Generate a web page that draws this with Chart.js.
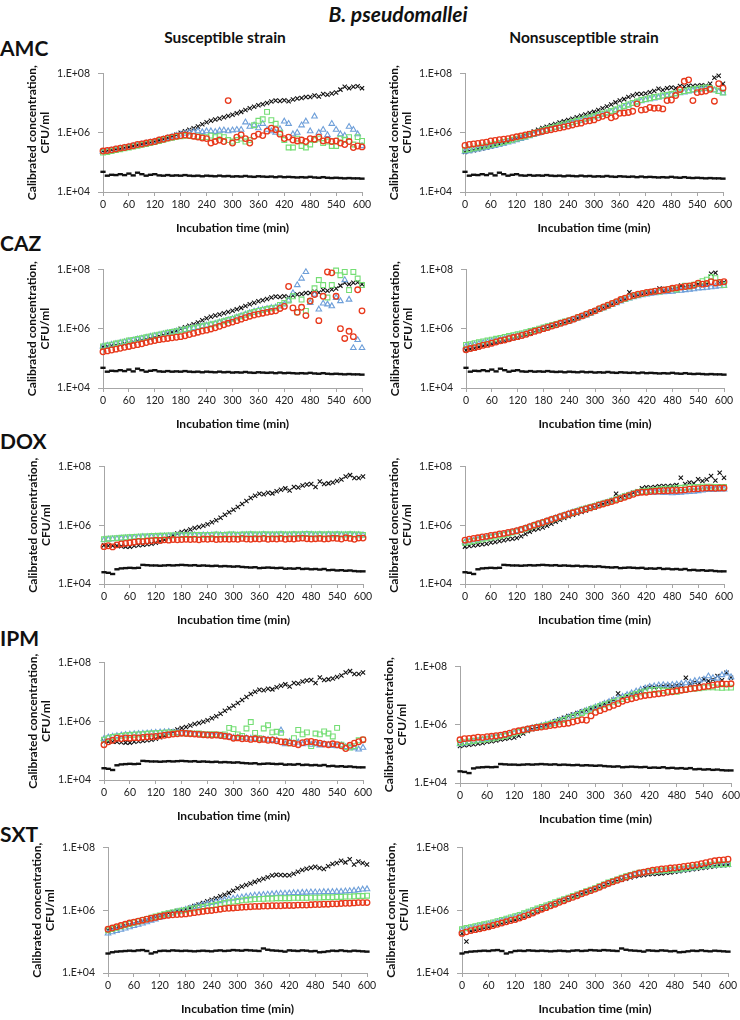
<!DOCTYPE html>
<html lang="en">
<head>
<meta charset="UTF-8" />
<title>B. pseudomallei growth curves</title>
<script src="https://cdn.jsdelivr.net/npm/chart.js"></script>
<style>
  body { margin: 0; background: #fff; font-family: Lato, "Open Sans", sans-serif; }
  #page { position: relative; width: 740px; height: 1020px; overflow: hidden; }
  .lbl { position: absolute; transform: translate(-50%, -50%); white-space: nowrap; color: #111; font-weight: bold; }
  .row { position: absolute; transform: translateY(-50%); left: 0px; font-size: 21px; font-weight: bold; color: #111; }
  canvas { position: absolute; }
</style>
</head>
<body>
<div id="page">
  <div class="lbl" style="left:398px; top:13px; font-size:21px; font-style:italic;">B. pseudomallei</div>
  <div class="lbl" style="left:225px; top:37px; font-size:15.5px;">Susceptible strain</div>
  <div class="lbl" style="left:584px; top:37px; font-size:15.5px;">Nonsusceptible strain</div>
  <div class="row" style="top:47px;">AMC</div>
  <div class="row" style="top:242px;">CAZ</div>
  <div class="row" style="top:440px;">DOX</div>
  <div class="row" style="top:637px;">IPM</div>
  <div class="row" style="top:833px;">SXT</div>
</div>

<script>
// sampling times (min)
const times = [0,10,20,30,40,50,60,70,80,90,100,110,120,130,140,150,160,170,180,190,
  200,210,220,230,240,250,260,270,280,290,300,310,320,330,340,350,360,370,380,390,
  400,410,420,430,440,450,460,470,480,490,500,510,520,530,540,550,560,570,580,590,600];

const xTicks = [0,60,120,180,240,300,360,420,480,540,600];
const yTicks = [1e4, 1e6, 1e8];
const yTickLabels = ["1.E+04", "1.E+06", "1.E+08"];

// all series are log10(CFU/ml), one value per 10 min
// growth controls (black x)
const ctrlA = [5.38,5.40,5.42,5.44,5.46,5.49,5.52,5.55,5.58,5.61, 5.64,5.67,5.70,5.74,5.78,5.83,5.88,5.93,6.00,6.05,
  6.10,6.15,6.21,6.28,6.35,6.40,6.44,6.48,6.52,6.56, 6.60,6.65,6.70,6.76,6.82,6.87,6.92,6.96,7.00,7.05,
  7.08,7.07,7.09,7.06,7.12,7.15,7.17,7.20,7.20,7.25, 7.22,7.30,7.28,7.32,7.35,7.45,7.55,7.50,7.55,7.56, 7.50];
const ctrlB = [5.35,5.38,5.41,5.44,5.47,5.50,5.53,5.57,5.61,5.65, 5.70,5.75,5.80,5.86,5.92,5.98,6.04,6.10,6.16,6.20,
  6.25,6.29,6.34,6.38,6.43,6.47,6.52,6.57,6.61,6.66, 6.70,6.76,6.82,6.88,6.95,7.02,7.08,7.13,7.20,7.25,
  7.30,7.30,7.32,7.36,7.40,7.48,7.44,7.50,7.52,7.50, 7.57,7.55,7.58,7.57,7.58,7.60,7.58,7.65,7.85,7.92, 7.65];
const ctrlG = [5.27,5.31,5.34,5.38,5.42,5.45,5.49,5.53,5.57,5.60, 5.64,5.68,5.71,5.75,5.79,5.84,5.89,5.93,5.98,6.02,
  6.07,6.11,6.16,6.20,6.25,6.30,6.36,6.41,6.47,6.53, 6.58,6.65,6.71,6.77,6.83,6.89,6.96,7.01,7.23,7.10,
  7.14,7.17,7.20,7.22,7.24,7.35,7.28,7.30,7.33,7.36, 7.45,7.40,7.42,7.44,7.50,7.48,7.50,7.85,7.88,7.55, 7.56];
const ctrlC = [5.32,5.30,5.30,5.30,5.28,5.27,5.27,5.30,5.32,5.33, 5.35,5.37,5.40,5.45,5.50,5.58,5.65,5.72,5.77,5.80,
  5.85,5.90,5.94,5.98,6.03,6.10,6.17,6.25,6.35,6.44, 6.52,6.62,6.72,6.82,6.92,7.00,7.07,7.05,7.10,7.08,
  7.15,7.20,7.25,7.18,7.30,7.28,7.35,7.38,7.40,7.30, 7.48,7.40,7.42,7.45,7.50,7.55,7.65,7.70,7.60,7.60, 7.65];
const ctrlD = [5.27,5.29,5.31,5.33,5.35,5.37,5.41,5.43,5.46,5.49, 5.52,5.54,5.56,5.62,5.70,5.78,5.84,5.88,5.92,5.98,
  6.05,6.12,6.18,6.24,6.30,6.35,6.40,6.45,6.50,6.55, 6.60,6.66,6.72,6.78,6.85,7.07,6.95,7.00,7.05,7.10,
  7.15,7.25,7.29,7.28,7.30,7.32,7.33,7.32,7.34,7.36, 7.61,7.40,7.45,7.42,7.56,7.50,7.55,7.67,7.52,7.78, 7.61];
const ctrlE = [5.36,5.40,5.43,5.46,5.50,5.53,5.57,5.61,5.65,5.69, 5.74,5.78,5.83,5.87,5.91,5.94,5.97,6.00,6.03,6.08,
  6.13,6.18,6.23,6.28,6.33,6.38,6.44,6.49,6.55,6.62, 6.70,6.75,6.80,6.85,6.90,6.95,7.00,7.05,7.10,7.13,
  7.12,7.11,7.11,7.16,7.22,7.28,7.32,7.35,7.38,7.34, 7.31,7.40,7.47,7.50,7.57,7.52,7.62,7.45,7.55,7.50, 7.45];
const ctrlF = [5.26,5.00,5.34,5.37,5.40,5.43,5.46,5.50,5.54,5.58, 5.62,5.66,5.69,5.74,5.79,5.84,5.90,5.96,6.02,6.07,
  6.13,6.18,6.24,6.29,6.35,6.40,6.45,6.51,6.56,6.61, 6.66,6.71,6.77,6.83,6.88,6.93,6.97,7.00,7.04,7.08,
  7.10,7.12,7.14,7.15,7.16,7.17,7.19,7.20,7.22,7.24, 7.26,7.28,7.30,7.32,7.34,7.36,7.38,7.40,7.42,7.43, 7.44];

// negative controls (black dash)
const negA = [4.68,4.55,4.58,4.57,4.60,4.57,4.62,4.56,4.65,4.60, 4.55,4.58,4.60,4.56,4.55,4.57,4.55,4.56,4.55,4.57,
  4.55,4.54,4.55,4.53,4.55,4.54,4.53,4.55,4.53,4.54, 4.52,4.53,4.52,4.54,4.52,4.51,4.53,4.52,4.51,4.52,
  4.50,4.52,4.50,4.51,4.50,4.49,4.50,4.49,4.51,4.49, 4.48,4.50,4.48,4.47,4.48,4.47,4.46,4.47,4.46,4.46, 4.45];
const negB = [4.40,4.38,4.34,4.50,4.53,4.54,4.55,4.54,4.55,4.65, 4.64,4.63,4.63,4.62,4.63,4.64,4.63,4.64,4.65,4.64,
  4.63,4.64,4.62,4.63,4.62,4.61,4.62,4.60,4.61,4.60, 4.59,4.60,4.58,4.57,4.56,4.57,4.54,4.55,4.56,4.55,
  4.54,4.55,4.52,4.53,4.52,4.54,4.51,4.52,4.50,4.51, 4.49,4.51,4.47,4.48,4.46,4.47,4.45,4.46,4.44,4.43, 4.43];
const negC = [4.62,4.66,4.68,4.69,4.70,4.71,4.70,4.72,4.73,4.70, 4.62,4.66,4.70,4.71,4.70,4.72,4.71,4.70,4.71,4.70,
  4.69,4.70,4.71,4.70,4.69,4.71,4.72,4.70,4.71,4.73, 4.72,4.71,4.73,4.72,4.71,4.70,4.78,4.74,4.72,4.71,
  4.70,4.68,4.72,4.71,4.70,4.72,4.71,4.69,4.70,4.66, 4.67,4.69,4.71,4.70,4.72,4.70,4.69,4.71,4.70,4.69, 4.68];

// AMC
const amcS_red = [5.38,5.40,5.42,5.45,5.48,5.50,5.53,5.56,5.60,5.62, 5.65,5.68,5.70,5.75,5.78,5.82,5.85,5.88,5.90,5.92,
  5.90,5.88,5.85,5.82,5.80,5.65,5.70,5.75,5.70,7.08, 5.65,5.85,5.92,5.80,5.65,5.88,5.95,5.90,6.05,6.15,
  6.10,5.95,5.80,5.85,5.75,5.72,5.75,5.70,5.80,5.78, 5.85,5.72,5.75,5.70,5.72,5.65,5.60,5.70,5.50,5.55, 5.52];
const amcS_green = [5.33,5.35,5.38,5.41,5.44,5.47,5.50,5.53,5.56,5.59, 5.62,5.65,5.68,5.72,5.76,5.80,5.83,5.86,5.88,5.89,
  5.90,5.88,5.87,5.85,5.85,5.90,5.85,5.88,5.85,5.75, 5.70,5.75,5.80,5.70,5.75,6.25,6.40,6.45,6.70,6.42,
  6.30,6.00,5.75,5.50,5.50,5.80,5.55,5.50,5.60,5.75, 5.80,5.65,5.70,5.55,5.55,5.80,5.75,5.85,5.60,5.85, 5.72];
const amcS_blue = [5.35,5.37,5.40,5.43,5.46,5.49,5.52,5.55,5.58,5.61, 5.64,5.67,5.70,5.74,5.78,5.82,5.86,5.90,5.94,5.97,
  6.00,6.02,6.05,6.02,6.05,6.05,6.03,6.07,6.08,6.05, 6.08,6.10,6.10,6.35,6.20,6.25,6.15,6.30,6.10,6.05,
  6.00,6.12,6.38,6.30,5.95,6.00,6.25,6.38,6.05,6.55, 6.00,6.10,5.92,6.30,6.10,5.95,5.90,6.20,6.10,5.95, 5.55];
const amcN_red = [5.57,5.60,5.62,5.64,5.66,5.68,5.72,5.74,5.76,5.78, 5.80,5.83,5.86,5.89,5.92,5.95,5.98,6.01,6.04,6.07,
  6.10,6.13,6.16,6.19,6.22,6.26,6.30,6.32,6.38,6.40, 6.43,6.50,6.55,6.60,6.50,6.55,6.65,6.66,6.68,6.72,
  6.97,6.76,6.78,6.85,6.82,6.83,6.80,7.08,7.10,7.25, 7.45,7.73,7.78,7.08,7.35,7.38,7.40,7.46,7.06,7.65, 7.50];
const amcN_green = [5.42,5.44,5.47,5.50,5.53,5.56,5.59,5.62,5.65,5.69, 5.72,5.76,5.80,5.84,5.88,5.92,5.97,6.02,6.07,6.12,
  6.16,6.20,6.24,6.28,6.32,6.36,6.40,6.44,6.48,6.51, 6.55,6.60,6.64,6.68,6.73,6.78,6.84,6.90,6.95,7.00,
  7.05,7.10,7.13,7.16,7.20,7.22,7.25,7.27,7.30,7.33, 7.37,7.40,7.43,7.46,7.48,7.50,7.52,7.50,7.45,7.40, 7.35];
const amcN_blue = [5.36,5.38,5.41,5.44,5.47,5.50,5.53,5.56,5.60,5.63, 5.67,5.71,5.75,5.79,5.83,5.88,5.93,5.98,6.03,6.08,
  6.12,6.16,6.20,6.24,6.28,6.32,6.36,6.40,6.44,6.48, 6.52,6.56,6.61,6.65,6.70,6.75,6.80,6.86,6.92,6.97,
  7.02,7.06,7.10,7.13,7.16,7.19,7.22,7.25,7.28,7.30, 7.33,7.36,7.39,7.42,7.44,7.46,7.48,7.47,7.43,7.38, 7.33];

// CAZ
const cazS_red = [5.22,5.25,5.28,5.31,5.34,5.37,5.40,5.43,5.46,5.49, 5.53,5.57,5.60,5.63,5.65,5.67,5.69,5.71,5.73,5.76,
  5.80,5.84,5.88,5.92,5.95,5.99,6.03,6.08,6.13,6.18, 6.22,6.27,6.32,6.37,6.42,6.46,6.49,6.52,6.55,6.58,
  6.60,6.68,6.75,7.42,6.70,6.55,6.72,6.44,6.93,7.15, 6.27,7.09,7.91,7.88,7.09,6.00,5.67,5.91,5.73,7.31, 6.60];
const cazS_green = [5.40,5.43,5.46,5.50,5.53,5.56,5.60,5.62,5.65,5.68, 5.71,5.74,5.77,5.80,5.83,5.86,5.89,5.91,5.94,5.97,
  6.00,6.02,6.05,6.08,6.11,6.14,6.17,6.21,6.25,6.29, 6.33,6.38,6.42,6.47,6.52,6.56,6.60,6.63,6.66,6.69,
  6.71,6.80,6.87,6.95,7.09,6.55,6.98,6.60,6.93,7.36, 7.64,7.47,7.05,7.47,7.96,7.80,7.91,7.30,7.91,7.69, 7.47];
const cazS_blue = [5.40,5.43,5.46,5.49,5.52,5.55,5.58,5.61,5.64,5.67, 5.70,5.73,5.76,5.79,5.82,5.85,5.88,5.91,5.94,5.96,
  5.99,6.02,6.05,6.08,6.11,6.14,6.17,6.21,6.25,6.29, 6.33,6.38,6.43,6.48,6.53,6.58,6.62,6.64,6.67,6.70,
  6.72,6.75,6.82,6.95,7.20,7.47,7.69,7.91,6.87,7.15, 6.65,6.85,6.82,6.76,7.04,6.93,7.64,6.98,5.35,5.62, 5.35];
const cazN_red = [5.29,5.33,5.36,5.40,5.44,5.47,5.51,5.55,5.59,5.62, 5.66,5.70,5.73,5.77,5.81,5.86,5.91,5.95,6.00,6.04,
  6.09,6.13,6.18,6.22,6.27,6.32,6.38,6.43,6.49,6.55, 6.60,6.67,6.73,6.79,6.85,6.91,6.98,7.03,7.08,7.12,
  7.16,7.19,7.22,7.24,7.26,7.28,7.30,7.32,7.36,7.38, 7.40,7.42,7.44,7.46,7.53,7.50,7.52,7.58,7.54,7.56, 7.58];
const cazN_green = [5.45,5.48,5.51,5.54,5.57,5.60,5.63,5.66,5.69,5.72, 5.75,5.78,5.81,5.84,5.88,5.92,5.96,6.00,6.04,6.08,
  6.12,6.16,6.20,6.24,6.28,6.33,6.38,6.43,6.48,6.54, 6.60,6.66,6.72,6.78,6.84,6.90,6.96,7.01,7.06,7.10,
  7.14,7.17,7.20,7.24,7.27,7.25,7.30,7.33,7.35,7.32, 7.40,7.45,7.42,7.48,7.50,7.60,7.65,7.74,7.70,7.55, 7.47];
const cazN_blue = [5.40,5.43,5.46,5.49,5.52,5.55,5.58,5.61,5.64,5.67, 5.70,5.73,5.77,5.81,5.85,5.89,5.93,5.97,6.01,6.05,
  6.09,6.13,6.17,6.21,6.25,6.30,6.35,6.40,6.45,6.51, 6.57,6.63,6.69,6.75,6.80,6.86,6.92,6.97,7.02,7.06,
  7.10,7.13,7.16,7.18,7.20,7.22,7.23,7.24,7.25,7.27, 7.28,7.30,7.32,7.33,7.36,7.37,7.38,7.40,7.42,7.43, 7.45];

// DOX
const doxS_red = [5.27,5.30,5.26,5.33,5.36,5.38,5.40,5.42,5.45,5.44, 5.46,5.47,5.49,5.48,5.50,5.49,5.51,5.50,5.51,5.52,
  5.51,5.52,5.50,5.53,5.52,5.54,5.51,5.52,5.53,5.52, 5.53,5.52,5.55,5.53,5.52,5.54,5.53,5.55,5.52,5.54,
  5.53,5.55,5.52,5.54,5.53,5.55,5.56,5.54,5.53,5.54, 5.55,5.53,5.54,5.56,5.55,5.53,5.57,5.55,5.52,5.56, 5.56];
const doxS_green = [5.52,5.54,5.55,5.56,5.57,5.58,5.59,5.60,5.61,5.62, 5.62,5.63,5.63,5.64,5.64,5.65,5.65,5.66,5.66,5.66,
  5.66,5.67,5.67,5.66,5.67,5.67,5.68,5.67,5.67,5.68, 5.68,5.67,5.68,5.68,5.69,5.68,5.68,5.69,5.68,5.68,
  5.68,5.69,5.68,5.68,5.69,5.68,5.69,5.70,5.69,5.68, 5.69,5.68,5.69,5.68,5.69,5.68,5.68,5.69,5.68,5.68, 5.67];
const doxS_blue = [5.50,5.52,5.53,5.54,5.55,5.56,5.57,5.58,5.59,5.60, 5.60,5.61,5.62,5.62,5.63,5.63,5.64,5.64,5.65,5.65,
  5.65,5.66,5.65,5.66,5.66,5.66,5.67,5.66,5.66,5.67, 5.67,5.66,5.67,5.67,5.68,5.67,5.67,5.68,5.67,5.67,
  5.67,5.68,5.67,5.67,5.68,5.67,5.68,5.69,5.68,5.67, 5.68,5.67,5.68,5.67,5.68,5.67,5.67,5.68,5.67,5.67, 5.66];
const doxN_red = [5.49,5.52,5.55,5.57,5.60,5.62,5.65,5.67,5.70,5.72, 5.75,5.78,5.81,5.85,5.90,5.95,6.00,6.05,6.09,6.14,
  6.19,6.24,6.29,6.33,6.38,6.42,6.46,6.51,6.55,6.59, 6.63,6.68,6.72,6.76,6.80,6.85,6.90,6.95,7.00,7.05,
  7.10,7.12,7.12,7.14,7.15,7.16,7.17,7.17,7.18,7.18, 7.19,7.20,7.22,7.23,7.24,7.25,7.26,7.26,7.25,7.26, 7.26];
const doxN_green = [5.40,5.43,5.46,5.49,5.52,5.55,5.58,5.61,5.64,5.67, 5.71,5.75,5.79,5.83,5.88,5.93,5.98,6.03,6.08,6.13,
  6.18,6.23,6.28,6.33,6.38,6.43,6.48,6.53,6.57,6.61, 6.65,6.70,6.74,6.78,6.83,6.88,6.93,6.98,7.03,7.08,
  7.12,7.15,7.17,7.19,7.20,7.22,7.23,7.24,7.25,7.26, 7.27,7.28,7.29,7.30,7.30,7.31,7.31,7.31,7.30,7.30, 7.30];
const doxN_blue = [5.42,5.45,5.48,5.51,5.54,5.57,5.60,5.63,5.66,5.69, 5.72,5.76,5.80,5.84,5.89,5.94,5.99,6.04,6.09,6.14,
  6.19,6.24,6.29,6.34,6.39,6.44,6.48,6.52,6.56,6.60, 6.64,6.69,6.73,6.77,6.82,6.87,6.92,6.97,7.02,7.06,
  7.09,7.11,7.12,7.12,7.11,7.12,7.10,7.11,7.09,7.10, 7.11,7.12,7.13,7.14,7.16,7.18,7.20,7.20,7.21,7.22, 7.22];

// IPM
const ipmS_red = [5.20,5.30,5.35,5.42,5.40,5.43,5.42,5.44,5.43,5.45, 5.46,5.47,5.48,5.50,5.52,5.54,5.56,5.57,5.59,5.58,
  5.57,5.56,5.55,5.54,5.53,5.52,5.53,5.51,5.49,5.47, 5.42,5.43,5.40,5.41,5.38,5.40,5.37,5.38,5.35,5.36,
  5.33,5.30,5.29,5.26,5.24,5.20,5.27,5.30,5.31,5.28, 5.25,5.22,5.20,5.23,5.20,5.16,5.07,5.18,5.25,5.30, 5.37];
const ipmS_green = [5.37,5.42,5.46,5.48,5.50,5.52,5.53,5.54,5.55,5.56, 5.57,5.58,5.59,5.60,5.61,5.62,5.61,5.60,5.59,5.60,
  5.58,5.57,5.58,5.56,5.55,5.56,5.55,5.54,5.55,5.77, 5.73,5.55,5.50,5.75,5.97,5.60,5.42,5.75,5.86,5.62,
  5.64,5.60,5.30,5.25,5.42,5.70,5.55,5.62,5.15,5.58, 5.55,5.65,5.58,5.48,5.77,5.20,5.12,5.10,5.15,5.35, 5.37];
const ipmS_blue = [5.40,5.45,5.48,5.50,5.52,5.54,5.55,5.56,5.57,5.58, 5.59,5.60,5.61,5.62,5.63,5.64,5.62,5.60,5.58,5.57,
  5.56,5.55,5.54,5.53,5.52,5.51,5.50,5.49,5.48,5.46, 5.44,5.43,5.42,5.42,5.41,5.40,5.38,5.38,5.37,5.36,
  5.35,5.69,5.22,5.30,5.25,5.28,5.22,5.25,5.20,5.22, 5.18,5.22,5.20,5.16,5.15,5.18,5.12,5.10,5.08,5.04, 5.10];
const ipmN_red = [5.48,5.52,5.53,5.54,5.57,5.56,5.59,5.60,5.62,5.64, 5.67,5.71,5.76,5.79,5.82,5.85,5.88,5.90,5.92,5.94,
  5.97,5.99,6.01,6.03,6.05,6.09,6.13,6.17,6.15,6.30, 6.42,6.48,6.54,6.60,6.66,6.72,6.80,6.85,6.89,6.93,
  6.97,7.00,7.02,7.04,7.06,7.08,7.11,7.13,7.16,7.18, 7.20,7.23,7.25,7.27,7.30,7.32,7.35,7.38,7.40,7.39, 7.40];
const ipmN_green = [5.37,5.40,5.42,5.44,5.46,5.48,5.50,5.52,5.55,5.58, 5.61,5.65,5.70,5.75,5.80,5.84,5.88,5.92,5.95,5.98,
  6.02,6.06,6.11,6.16,6.22,6.27,6.33,6.40,6.46,6.52, 6.58,6.63,6.68,6.73,6.78,6.83,6.88,6.95,7.00,7.05,
  7.10,7.14,7.18,7.19,7.20,7.17,7.16,7.15,7.13,7.18, 7.20,7.22,7.24,7.25,7.27,7.28,7.28,7.27,7.26,7.27, 7.27];
const ipmN_blue = [5.33,5.36,5.39,5.42,5.45,5.48,5.51,5.54,5.57,5.60, 5.63,5.67,5.71,5.75,5.80,5.84,5.88,5.92,5.96,6.00,
  6.04,6.09,6.14,6.19,6.25,6.30,6.36,6.42,6.48,6.54, 6.60,6.66,6.72,6.78,6.84,6.90,6.96,7.02,7.08,7.14,
  7.20,7.25,7.30,7.32,7.35,7.36,7.35,7.37,7.38,7.40, 7.42,7.45,7.50,7.52,7.55,7.66,7.60,7.58,7.70,7.76, 7.63];

// SXT
const sxtS_red = [5.39,5.43,5.47,5.51,5.55,5.59,5.62,5.65,5.68,5.71, 5.74,5.77,5.80,5.82,5.84,5.85,5.86,5.87,5.88,5.90,
  5.92,5.94,5.96,5.98,5.99,6.01,6.03,6.05,6.06,6.07, 6.08,6.09,6.10,6.11,6.12,6.12,6.13,6.13,6.14,6.14,
  6.14,6.15,6.15,6.15,6.16,6.16,6.16,6.17,6.18,6.18, 6.19,6.19,6.20,6.20,6.21,6.22,6.22,6.23,6.24,6.24, 6.24];
const sxtS_green = [5.36,5.40,5.44,5.48,5.52,5.56,5.60,5.64,5.68,5.72, 5.76,5.80,5.83,5.87,5.90,5.93,5.96,5.98,6.00,6.03,
  6.05,6.08,6.10,6.12,6.14,6.17,6.20,6.23,6.25,6.27, 6.29,6.31,6.33,6.34,6.35,6.36,6.36,6.37,6.37,6.38,
  6.38,6.38,6.38,6.39,6.39,6.39,6.39,6.40,6.40,6.40, 6.41,6.41,6.41,6.42,6.42,6.43,6.43,6.44,6.45,6.45, 6.46];
const sxtS_blue = [5.26,5.30,5.34,5.38,5.42,5.46,5.50,5.54,5.58,5.62, 5.67,5.71,5.76,5.81,5.86,5.90,5.95,5.98,6.02,6.06,
  6.10,6.13,6.17,6.20,6.23,6.26,6.29,6.32,6.35,6.37, 6.39,6.41,6.43,6.45,6.47,6.48,6.49,6.50,6.51,6.52,
  6.53,6.53,6.54,6.55,6.55,6.56,6.56,6.57,6.57,6.57, 6.58,6.58,6.58,6.59,6.59,6.60,6.61,6.62,6.64,6.66, 6.67];
const sxtN_red = [5.26,5.31,5.35,5.38,5.41,5.44,5.47,5.51,5.55,5.59, 5.63,5.67,5.70,5.75,5.80,5.85,5.91,5.97,6.03,6.08,
  6.14,6.19,6.25,6.30,6.36,6.41,6.46,6.52,6.57,6.62, 6.67,6.73,6.79,6.85,6.90,6.95,7.00,7.05,7.10,7.14,
  7.18,7.21,7.24,7.27,7.29,7.31,7.32,7.34,7.35,7.37, 7.39,7.41,7.43,7.45,7.48,7.51,7.54,7.57,7.59,7.60, 7.62];
const sxtN_green = [5.39,5.43,5.46,5.49,5.52,5.55,5.58,5.61,5.65,5.69, 5.73,5.77,5.81,5.85,5.90,5.95,6.00,6.05,6.10,6.15,
  6.20,6.25,6.30,6.35,6.40,6.45,6.50,6.55,6.60,6.65, 6.70,6.76,6.82,6.88,6.93,6.98,7.03,7.08,7.12,7.16,
  7.19,7.21,7.22,7.24,7.25,7.26,7.27,7.28,7.29,7.30, 7.32,7.34,7.36,7.38,7.40,7.42,7.44,7.45,7.46,7.46, 7.47];
const sxtN_blue = [5.36,5.40,5.43,5.46,5.49,5.52,5.55,5.58,5.62,5.66, 5.70,5.74,5.78,5.82,5.87,5.92,5.97,6.02,6.07,6.12,
  6.17,6.22,6.27,6.32,6.37,6.42,6.47,6.52,6.57,6.62, 6.67,6.73,6.79,6.85,6.90,6.95,7.00,7.05,7.09,7.13,
  7.16,7.18,7.19,7.21,7.22,7.23,7.24,7.25,7.26,7.27, 7.29,7.31,7.33,7.35,7.37,7.39,7.41,7.42,7.43,7.43, 7.44];

// panel layout: plot-area edges in page pixels
const panels = [
  { l: 103, r: 362, t: 69,  b: 192, red: amcS_red, green: amcS_green, blue: amcS_blue, ctrl: ctrlA, neg: negA },
  { l: 465, r: 723, t: 69,  b: 192, red: amcN_red, green: amcN_green, blue: amcN_blue, ctrl: ctrlB, neg: negA },
  { l: 103, r: 362, t: 265, b: 388, red: cazS_red, green: cazS_green, blue: cazS_blue, ctrl: ctrlA, neg: negA },
  { l: 466, r: 724, t: 265, b: 388, red: cazN_red, green: cazN_green, blue: cazN_blue, ctrl: ctrlG, neg: negA },
  { l: 104, r: 363, t: 462, b: 584, red: doxS_red, green: doxS_green, blue: doxS_blue, ctrl: ctrlC, neg: negB },
  { l: 465, r: 724, t: 462, b: 584, red: doxN_red, green: doxN_green, blue: doxN_blue, ctrl: ctrlD, neg: negB },
  { l: 104, r: 363, t: 658, b: 780, red: ipmS_red, green: ipmS_green, blue: ipmS_blue, ctrl: ctrlC, neg: negB },
  { l: 460, r: 731, t: 662, b: 783, red: ipmN_red, green: ipmN_green, blue: ipmN_blue, ctrl: ctrlD, neg: negB },
  { l: 108, r: 367, t: 843, b: 973, red: sxtS_red, green: sxtS_green, blue: sxtS_blue, ctrl: ctrlE, neg: negC },
  { l: 462, r: 728, t: 843, b: 973, red: sxtN_red, green: sxtN_green, blue: sxtN_blue, ctrl: ctrlF, neg: negC },
];

const YW = 100;  // y axis box width
const XH = 46;   // x axis box height
const PT = 10, PR = 16;
const axisCol = "#a6a6a6";

Chart.defaults.font.family = "Lato, 'Open Sans', sans-serif";
Chart.defaults.color = "#111";

function pts(arr) {
  return arr.map((v, i) => ({ x: times[i], y: Math.pow(10, v) }));
}

function ds(arr, style, color, radius, width) {
  return {
    data: pts(arr),
    pointStyle: style,
    borderColor: color,
    backgroundColor: "rgba(0,0,0,0)",
    pointRadius: radius,
    pointBorderWidth: width,
    showLine: false,
    clip: false,
  };
}

const page = document.getElementById("page");

panels.forEach((p) => {
  const cv = document.createElement("canvas");
  const w = p.r - p.l + YW + PR;
  const h = p.b - p.t + PT + XH;
  cv.width = w;
  cv.height = h;
  cv.style.left = (p.l - YW) + "px";
  cv.style.top = (p.t - PT) + "px";
  cv.style.width = w + "px";
  cv.style.height = h + "px";
  page.appendChild(cv);

  new Chart(cv.getContext("2d"), {
    type: "scatter",
    data: {
      datasets: [
        ds(p.red, "circle", "#e8391c", 2.8, 1.3),
        ds(p.green, "rect", "#74de74", 3.4, 1.1),
        ds(p.blue, "triangle", "#6e9fd9", 3.2, 1.1),
        ds(p.ctrl, "crossRot", "#111", 3.0, 1.1),
        ds(p.neg, "line", "#111", 2.6, 2.4),
      ],
    },
    options: {
      responsive: false,
      animation: false,
      events: [],
      layout: { padding: { left: 0, right: PR, top: PT, bottom: 0 } },
      plugins: { legend: { display: false }, tooltip: { enabled: false } },
      scales: {
        x: {
          type: "linear",
          min: 0,
          max: 600,
          afterBuildTicks: (s) => { s.ticks = xTicks.map((v) => ({ value: v })); },
          afterFit: (s) => { s.height = XH; },
          grid: { drawOnChartArea: false, tickLength: 4, color: axisCol },
          border: { color: axisCol },
          ticks: { font: { size: 10.5 }, padding: 2, maxRotation: 0, color: "#222" },
          title: {
            display: true,
            text: "Incubation time (min)",
            font: { size: 12, weight: "bold" },
            padding: { top: 0, bottom: 3 },
          },
        },
        y: {
          type: "logarithmic",
          min: 1e4,
          max: 1e8,
          afterBuildTicks: (s) => { s.ticks = yTicks.map((v) => ({ value: v })); },
          afterFit: (s) => { s.width = YW; },
          grid: { drawOnChartArea: false, tickLength: 5, color: axisCol },
          border: { color: axisCol },
          ticks: {
            font: { size: 10.5 },
            padding: 8,
            color: "#222",
            callback: (v) => { const k = yTicks.indexOf(v); return k >= 0 ? yTickLabels[k] : ""; },
          },
          title: {
            display: true,
            text: ["Calibrated concentration,", "CFU/ml"],
            font: { size: 12, weight: "bold", lineHeight: 1.05 },
            padding: { top: 23, bottom: 0 },
          },
        },
      },
    },
  });
});
</script>
</body>
</html>
